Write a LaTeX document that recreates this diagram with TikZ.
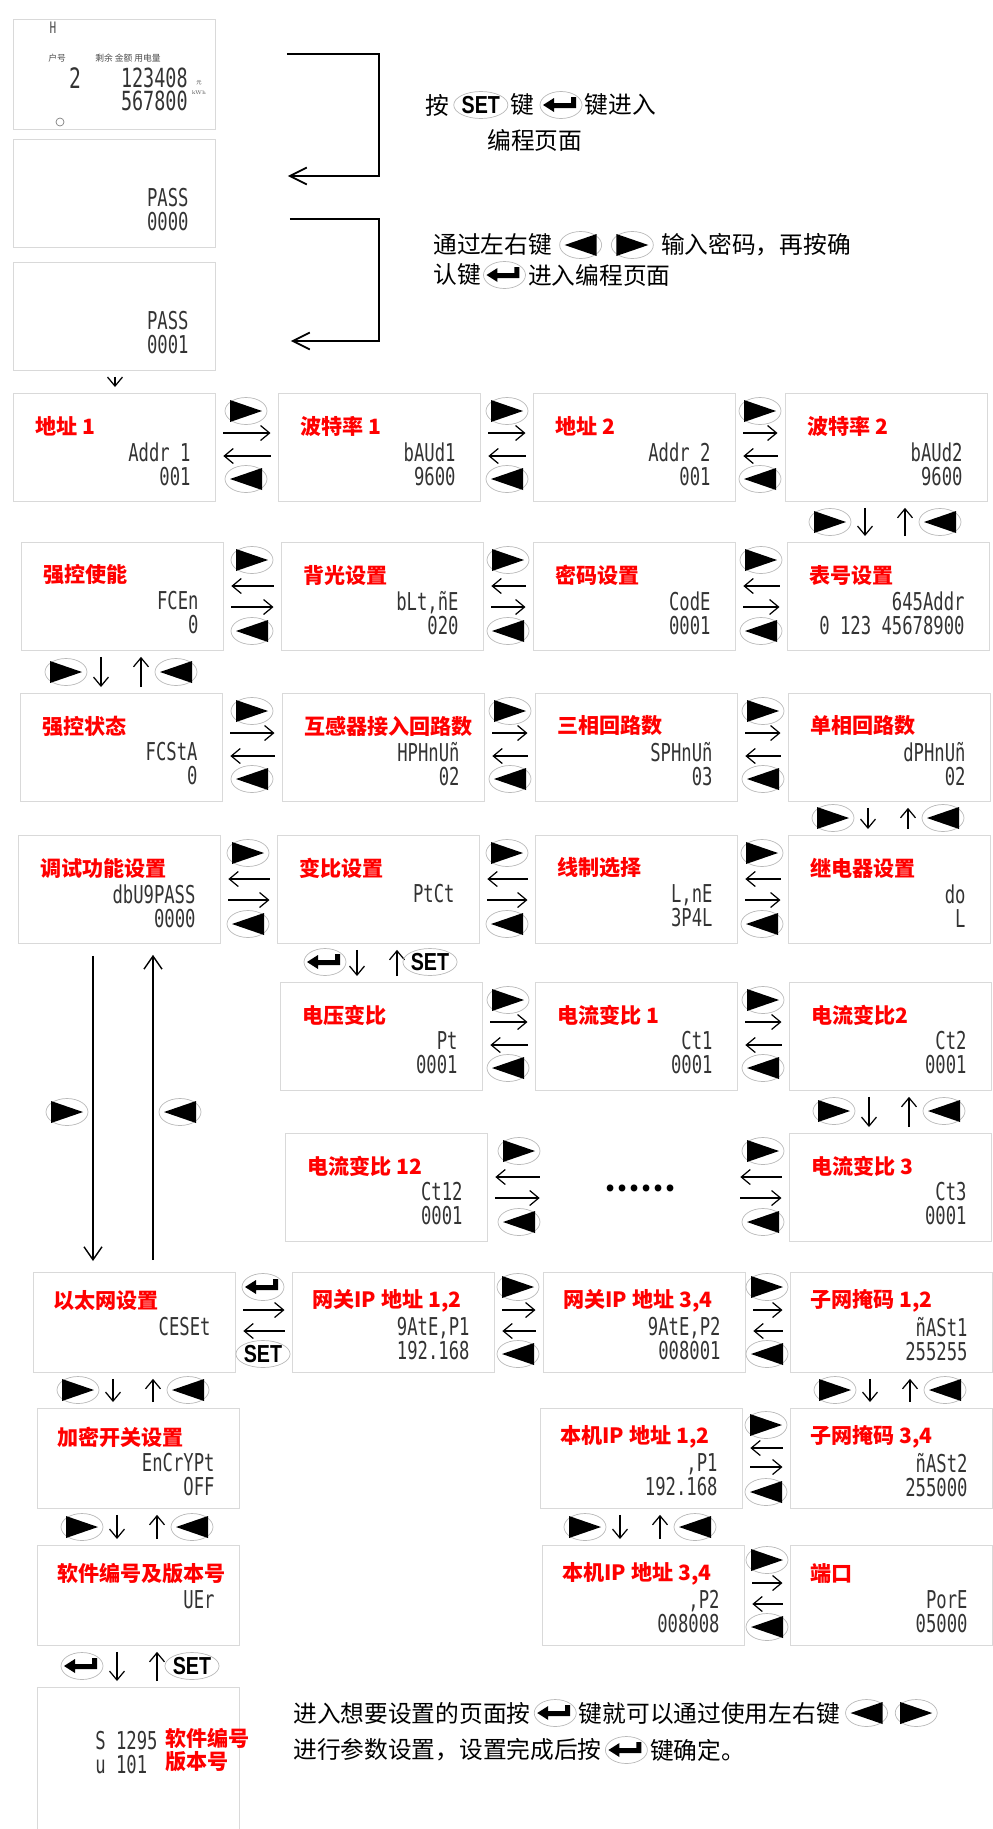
\documentclass[tikz,border=0pt]{standalone}
\usepackage{fontspec}
\usepackage{tikz}
\usetikzlibrary{calc,arrows.meta,positioning,shapes.geometric}
\newfontfamily\cjk{Noto Sans CJK SC}
\newfontfamily\segfont[FakeStretch=0.7]{DejaVu Sans Mono}
\newfontfamily\keyfont[FakeStretch=0.8]{Liberation Sans}

\begin{document}
\begin{tikzpicture}[
  x=0.02cm, y=-0.02cm,
  lcd/.style={draw=gray!30, line width=0.5pt, anchor=north west, minimum width=4.04cm, minimum height=2.16cm, inner sep=0pt},
  lcdlow/.style={lcd, minimum height=2cm},
  tag/.style={anchor=west, inner sep=0pt, text=red, font=\cjk\bfseries\fontsize{12}{14}\selectfont},
  seg/.style={anchor=north east, align=right, inner sep=0pt, text=black!80, font=\segfont\fontsize{14}{13.7}\selectfont},
  note/.style={anchor=west, inner sep=0pt, font=\cjk\fontsize{13.5}{16}\selectfont},
  key/.style={ellipse, draw=gray!55, line width=0.4pt, minimum width=0.84cm, minimum height=0.54cm, inner sep=0pt},
  glyph/.style={append after command={(\tikzlastnode.center) edge[draw=none, fill=black, to path={#1}] (\tikzlastnode.center)}},
  rkey/.style={key, glyph={(\tikztostart) ++(-16,-11) -- ++(0,22) -- ++(32,-11) -- cycle}},
  lkey/.style={key, glyph={(\tikztostart) ++(16,-11) -- ++(0,22) -- ++(-32,-11) -- cycle}},
  enterkey/.style={key, glyph={(\tikztostart) ++(-18,0) -- ++(11,-7) -- ++(0,5) -- ++(17,0) -- ++(0,-6) -- ++(5,0) -- ++(0,11) -- ++(-22,0) -- ++(0,4) -- cycle}},
  setkey/.style={key, font=\keyfont\bfseries\fontsize{14}{14}\selectfont},
  nav/.style={-{Straight Barb[length=1.8mm,width=3mm]}, line width=0.7pt, shorten <=0.15cm, shorten >=0.15cm},
  vnav/.style={nav, shorten <=0.12cm, shorten >=0.12cm},
  bignav/.style={-{Straight Barb[length=3.4mm,width=3.4mm]}, line width=1pt},
  longnav/.style={-{Straight Barb[length=2.6mm,width=3.6mm]}, line width=0.8pt, shorten <=0.24cm, shorten >=0.22cm}
]
\useasboundingbox (0,0) rectangle (992,1829);

% start pages
\node[lcd, minimum height=2.2cm] (meter) at (13,19) {};
\node[inner sep=0pt, text=black!70, font=\segfont\fontsize{9}{9}\selectfont] (mH) at (53,28) {H};
\node[anchor=west, inner sep=0pt, text=black!70, font=\cjk\fontsize{5}{5}\selectfont] (mNo) at (48,58) {户号};
\node[anchor=west, inner sep=0pt, text=black!70, font=\cjk\fontsize{5}{5}\selectfont] (mSum) at (95,58) {剩余 金额 用电量};
\node[inner sep=0pt, text=black!80, font=\segfont\fontsize{16}{16}\selectfont] (mId) at (75,78) {2};
\node[inner sep=0pt, anchor=east, text=black!80, font=\segfont\fontsize{15}{15}\selectfont] (mVal1) at (188,78) {123408};
\node[inner sep=0pt, anchor=east, text=black!80, font=\segfont\fontsize{15}{15}\selectfont] (mVal2) at (188,101) {567800};
\node[inner sep=0pt, text=black!70, font=\cjk\fontsize{3}{3}\selectfont] (mU1) at (199,83) {元};
\node[inner sep=0pt, text=black!70, font=\fontsize{3}{3}\selectfont] (mU2) at (199,93) {kWh};
\node[circle, draw=gray, inner sep=0pt, minimum size=0.16cm] (mIcon) at (60,122) {};

\node[lcd] (pass0) at (13,139) {};
\node[seg] (pass0s) at ($(pass0.north east)+(-27,49)$) {PASS\\0000};
\node[lcd] (pass1) at (13,262) {};
\node[seg] (pass1s) at ($(pass1.north east)+(-27,49)$) {PASS\\0001};

\node[note] (n1a) at (425,105) {按};
\node[setkey, right=0.08cm of n1a] (n1b) {SET};
\node[note, right=0.04cm of n1b] (n1c) {键};
\node[enterkey, right=0.1cm of n1c] (n1d) {};
\node[note, right=0.04cm of n1d] (n1e) {键进入};
\node[note] (n1f) at (487,140) {编程页面};
\node[note] (n2a) at (433,245) {通过左右键};
\node[lkey, right=0.14cm of n2a] (n2b) {};
\node[rkey, right=0.18cm of n2b] (n2c) {};
\node[note, right=0.14cm of n2c] (n2d) {输入密码，再按确};
\node[note] (n2e) at (433,275) {认键};
\node[enterkey, right=0.04cm of n2e] (n2f) {};
\node[note, right=0.04cm of n2f] (n2g) {进入编程页面};

% row 1
\node[lcd] (addr1) at (13,393) {};
\node[tag] (addr1t) at ($(addr1.north west)+(22,33)$) {地址 1};
\node[seg] (addr1s) at ($(addr1.north east)+(-25,49)$) {Addr 1\\001};
\node[lcd] (baud1) at (278,393) {};
\node[tag] (baud1t) at ($(baud1.north west)+(22,33)$) {波特率 1};
\node[seg] (baud1s) at ($(baud1.north east)+(-25,49)$) {bAUd1\\9600};
\node[lcd] (addr2) at (533,393) {};
\node[tag] (addr2t) at ($(addr2.north west)+(22,33)$) {地址 2};
\node[seg] (addr2s) at ($(addr2.north east)+(-25,49)$) {Addr 2\\001};
\node[lcd] (baud2) at (785,393) {};
\node[tag] (baud2t) at ($(baud2.north west)+(22,33)$) {波特率 2};
\node[seg] (baud2s) at ($(baud2.north east)+(-25,49)$) {bAUd2\\9600};

% row 2
\node[lcd] (fcen) at (21,542) {};
\node[tag] (fcent) at ($(fcen.north west)+(22,33)$) {强控使能};
\node[seg] (fcens) at ($(fcen.north east)+(-25,49)$) {FCEn\\0};
\node[lcd] (blt) at (281,542) {};
\node[tag] (bltt) at ($(blt.north west)+(22,33)$) {背光设置};
\node[seg] (blts) at ($(blt.north east)+(-25,49)$) {bLt,ñE\\020};
\node[lcd] (code) at (533,542) {};
\node[tag] (codet) at ($(code.north west)+(22,33)$) {密码设置};
\node[seg] (codes) at ($(code.north east)+(-25,49)$) {CodE\\0001};
\node[lcd] (meterno) at (787,542) {};
\node[tag] (meternot) at ($(meterno.north west)+(22,33)$) {表号设置};
\node[seg] (meternos) at ($(meterno.north east)+(-25,49)$) {645Addr\\0 123 45678900};

% row 3
\node[lcd] (fcsta) at (20,693) {};
\node[tag] (fcstat) at ($(fcsta.north west)+(22,33)$) {强控状态};
\node[seg] (fcstas) at ($(fcsta.north east)+(-25,49)$) {FCStA\\0};
\node[lcd] (hph) at (282,693) {};
\node[tag] (hpht) at ($(hph.north west)+(22,33)$) {互感器接入回路数};
\node[seg] (hphs) at ($(hph.north east)+(-25,49)$) {HPHnUñ\\02};
\node[lcd] (sph) at (535,693) {};
\node[tag] (spht) at ($(sph.north west)+(22,33)$) {三相回路数};
\node[seg] (sphs) at ($(sph.north east)+(-25,49)$) {SPHnUñ\\03};
\node[lcd] (dph) at (788,693) {};
\node[tag] (dpht) at ($(dph.north west)+(22,33)$) {单相回路数};
\node[seg] (dphs) at ($(dph.north east)+(-25,49)$) {dPHnUñ\\02};

% row 4
\node[lcd] (debug) at (18,835) {};
\node[tag] (debugt) at ($(debug.north west)+(22,33)$) {调试功能设置};
\node[seg] (debugs) at ($(debug.north east)+(-25,49)$) {dbU9PASS\\0000};
\node[lcd] (ptct) at (277,835) {};
\node[tag] (ptctt) at ($(ptct.north west)+(22,33)$) {变比设置};
\node[seg] (ptcts) at ($(ptct.north east)+(-25,49)$) {PtCt};
\node[lcd] (line) at (535,835) {};
\node[tag] (linet) at ($(line.north west)+(22,33)$) {线制选择};
\node[seg] (lines) at ($(line.north east)+(-25,49)$) {L,nE\\3P4L};
\node[lcd] (relay) at (788,835) {};
\node[tag] (relayt) at ($(relay.north west)+(22,33)$) {继电器设置};
\node[seg] (relays) at ($(relay.north east)+(-25,49)$) {do\\L};

% row 5
\node[lcd] (pt) at (280,982) {};
\node[tag] (ptt) at ($(pt.north west)+(22,33)$) {电压变比};
\node[seg] (pts) at ($(pt.north east)+(-25,49)$) {Pt\\0001};
\node[lcd] (ct1) at (535,982) {};
\node[tag] (ct1t) at ($(ct1.north west)+(22,33)$) {电流变比 1};
\node[seg] (ct1s) at ($(ct1.north east)+(-25,49)$) {Ct1\\0001};
\node[lcd] (ct2) at (789,982) {};
\node[tag] (ct2t) at ($(ct2.north west)+(22,33)$) {电流变比2};
\node[seg] (ct2s) at ($(ct2.north east)+(-25,49)$) {Ct2\\0001};

% row 6
\node[lcd] (ct12) at (285,1133) {};
\node[tag] (ct12t) at ($(ct12.north west)+(22,33)$) {电流变比 12};
\node[seg] (ct12s) at ($(ct12.north east)+(-25,49)$) {Ct12\\0001};
\node[inner sep=0pt, minimum width=3.7cm, font=\cjk\bfseries\fontsize{18}{18}\selectfont] (dots) at (640,1188) {……};
\node[lcd] (ct3) at (789,1133) {};
\node[tag] (ct3t) at ($(ct3.north west)+(22,33)$) {电流变比 3};
\node[seg] (ct3s) at ($(ct3.north east)+(-25,49)$) {Ct3\\0001};

% row 7
\node[lcdlow] (eth) at (33,1272) {};
\node[tag] (etht) at ($(eth.north west)+(20,29)$) {以太网设置};
\node[seg] (eths) at ($(eth.north east)+(-25,45)$) {CESEt};
\node[lcdlow] (gate12) at (292,1272) {};
\node[tag] (gate12t) at ($(gate12.north west)+(20,29)$) {网关IP 地址 1,2};
\node[seg] (gate12s) at ($(gate12.north east)+(-25,45)$) {9AtE,P1\\192.168};
\node[lcdlow] (gate34) at (543,1272) {};
\node[tag] (gate34t) at ($(gate34.north west)+(20,29)$) {网关IP 地址 3,4};
\node[seg] (gate34s) at ($(gate34.north east)+(-25,45)$) {9AtE,P2\\008001};
\node[lcdlow] (mask12) at (790,1272) {};
\node[tag] (mask12t) at ($(mask12.north west)+(20,29)$) {子网掩码 1,2};
\node[seg] (mask12s) at ($(mask12.north east)+(-25,45)$) {ñASt1\\255255};

% row 8
\node[lcdlow] (encrypt) at (37,1408) {};
\node[tag] (encryptt) at ($(encrypt.north west)+(20,29)$) {加密开关设置};
\node[seg] (encrypts) at ($(encrypt.north east)+(-25,45)$) {EnCrYPt\\OFF};
\node[lcdlow] (ip12) at (540,1408) {};
\node[tag] (ip12t) at ($(ip12.north west)+(20,29)$) {本机IP 地址 1,2};
\node[seg] (ip12s) at ($(ip12.north east)+(-25,45)$) {,P1\\192.168};
\node[lcdlow] (mask34) at (790,1408) {};
\node[tag] (mask34t) at ($(mask34.north west)+(20,29)$) {子网掩码 3,4};
\node[seg] (mask34s) at ($(mask34.north east)+(-25,45)$) {ñASt2\\255000};

% row 9
\node[lcdlow] (ver) at (37,1545) {};
\node[tag] (vert) at ($(ver.north west)+(20,29)$) {软件编号及版本号};
\node[seg] (vers) at ($(ver.north east)+(-25,45)$) {UEr};
\node[lcdlow] (ip34) at (542,1545) {};
\node[tag] (ip34t) at ($(ip34.north west)+(20,29)$) {本机IP 地址 3,4};
\node[seg] (ip34s) at ($(ip34.north east)+(-25,45)$) {,P2\\008008};
\node[lcdlow] (port) at (790,1545) {};
\node[tag] (portt) at ($(port.north west)+(20,29)$) {端口};
\node[seg] (ports) at ($(port.north east)+(-25,45)$) {PorE\\05000};

% version page
\node[lcd, minimum height=2.86cm] (verval) at (37,1687) {};
\node[seg, anchor=north west, align=left] (vervals) at (95,1731) {S 1295\\u 101};
\node[tag] (vervalt1) at (165,1738) {软件编号};
\node[tag] (vervalt2) at (165,1762) {版本号};

% bottom note
\node[note] (n3a) at (293,1713) {进入想要设置的页面按};
\node[enterkey, right=0.06cm of n3a] (n3b) {};
\node[note, right=0.04cm of n3b] (n3c) {键就可以通过使用左右键};
\node[lkey, right=0.1cm of n3c] (n3d) {};
\node[rkey, right=0.14cm of n3d] (n3e) {};
\node[note] (n3f) at (293,1750) {进行参数设置，设置完成后按};
\node[enterkey, right=0.06cm of n3f] (n3g) {};
\node[note, right=0.04cm of n3g] (n3h) {键确定。};

% entering the menu
\draw[bignav] ($(meter.north east)+(71,35)$) -- ++(92,0) |- ($(pass0.north east)+(72,37)$);
\draw[bignav] ($(pass0.north east)+(74,80)$) -- ++(89,0) |- ($(pass1.north east)+(75,79)$);
\draw[vnav] ($(pass1.south west)+(102,0)$) -- ($(pass1.south west |- addr1.north)+(102,0)$);

% row 1 links
\node[rkey] (r11) at (246,411) {};
\draw[nav] ($(addr1.north east)+(0,40)$) -- ($(addr1.north east -| baud1.west)+(0,40)$);
\draw[nav] ($(addr1.north east -| baud1.west)+(0,63)$) -- ($(addr1.north east)+(0,63)$);
\node[lkey] (l11) at (246,479) {};
\node[rkey] (r12) at (507,411) {};
\draw[nav] ($(baud1.north east)+(0,40)$) -- ($(baud1.north east -| addr2.west)+(0,40)$);
\draw[nav] ($(baud1.north east -| addr2.west)+(0,63)$) -- ($(baud1.north east)+(0,63)$);
\node[lkey] (l12) at (507,479) {};
\node[rkey] (r13) at (760,411) {};
\draw[nav] ($(addr2.north east)+(0,40)$) -- ($(addr2.north east -| baud2.west)+(0,40)$);
\draw[nav] ($(addr2.north east -| baud2.west)+(0,63)$) -- ($(addr2.north east)+(0,63)$);
\node[lkey] (l13) at (760,479) {};

\node[rkey] (vr1) at (830,522) {};
\draw[vnav] ($(baud2.south west)+(80,0)$) -- ($(baud2.south west |- meterno.north)+(80,0)$);
\draw[vnav] ($(baud2.south west |- meterno.north)+(120,0)$) -- ($(baud2.south west)+(120,0)$);
\node[lkey] (vl1) at (940,522) {};

% row 2 links
\node[rkey] (r21) at (252,560) {};
\draw[nav] ($(fcen.north east -| blt.west)+(0,44)$) -- ($(fcen.north east)+(0,44)$);
\draw[nav] ($(fcen.north east)+(0,65)$) -- ($(fcen.north east -| blt.west)+(0,65)$);
\node[lkey] (l21) at (252,631) {};
\node[rkey] (r22) at (508,560) {};
\draw[nav] ($(blt.north east -| code.west)+(0,44)$) -- ($(blt.north east)+(0,44)$);
\draw[nav] ($(blt.north east)+(0,65)$) -- ($(blt.north east -| code.west)+(0,65)$);
\node[lkey] (l22) at (508,631) {};
\node[rkey] (r23) at (761,560) {};
\draw[nav] ($(code.north east -| meterno.west)+(0,44)$) -- ($(code.north east)+(0,44)$);
\draw[nav] ($(code.north east)+(0,65)$) -- ($(code.north east -| meterno.west)+(0,65)$);
\node[lkey] (l23) at (761,631) {};

\node[rkey] (vr2) at (66,672) {};
\draw[vnav] ($(fcen.south west)+(80,0)$) -- ($(fcen.south west |- fcsta.north)+(80,0)$);
\draw[vnav] ($(fcen.south west |- fcsta.north)+(120,0)$) -- ($(fcen.south west)+(120,0)$);
\node[lkey] (vl2) at (176,672) {};

% row 3 links
\node[rkey] (r31) at (252,711) {};
\draw[nav] ($(fcsta.north east)+(0,40)$) -- ($(fcsta.north east -| hph.west)+(0,40)$);
\draw[nav] ($(fcsta.north east -| hph.west)+(0,63)$) -- ($(fcsta.north east)+(0,63)$);
\node[lkey] (l31) at (252,779) {};
\node[rkey] (r32) at (510,711) {};
\draw[nav] ($(hph.north east)+(0,40)$) -- ($(hph.north east -| sph.west)+(0,40)$);
\draw[nav] ($(hph.north east -| sph.west)+(0,63)$) -- ($(hph.north east)+(0,63)$);
\node[lkey] (l32) at (510,779) {};
\node[rkey] (r33) at (763,711) {};
\draw[nav] ($(sph.north east)+(0,40)$) -- ($(sph.north east -| dph.west)+(0,40)$);
\draw[nav] ($(sph.north east -| dph.west)+(0,63)$) -- ($(sph.north east)+(0,63)$);
\node[lkey] (l33) at (763,779) {};

\node[rkey] (vr3) at (833,818) {};
\draw[vnav] ($(dph.south west)+(80,0)$) -- ($(dph.south west |- relay.north)+(80,0)$);
\draw[vnav] ($(dph.south west |- relay.north)+(120,0)$) -- ($(dph.south west)+(120,0)$);
\node[lkey] (vl3) at (943,818) {};

% row 4 links
\node[rkey] (r41) at (248,853) {};
\draw[nav] ($(debug.north east -| ptct.west)+(0,44)$) -- ($(debug.north east)+(0,44)$);
\draw[nav] ($(debug.north east)+(0,65)$) -- ($(debug.north east -| ptct.west)+(0,65)$);
\node[lkey] (l41) at (248,924) {};
\node[rkey] (r42) at (507,853) {};
\draw[nav] ($(ptct.north east -| line.west)+(0,44)$) -- ($(ptct.north east)+(0,44)$);
\draw[nav] ($(ptct.north east)+(0,65)$) -- ($(ptct.north east -| line.west)+(0,65)$);
\node[lkey] (l42) at (507,924) {};
\node[rkey] (r43) at (762,853) {};
\draw[nav] ($(line.north east -| relay.west)+(0,44)$) -- ($(line.north east)+(0,44)$);
\draw[nav] ($(line.north east)+(0,65)$) -- ($(line.north east -| relay.west)+(0,65)$);
\node[lkey] (l43) at (762,924) {};

\node[enterkey] (vr4) at (325,962) {};
\draw[vnav] ($(ptct.south west)+(80,0)$) -- ($(ptct.south west |- pt.north)+(80,0)$);
\draw[vnav] ($(ptct.south west |- pt.north)+(120,0)$) -- ($(ptct.south west)+(120,0)$);
\node[setkey] (vl4) at (430,962) {SET};

\node[rkey] (vr5) at (67,1112) {};
\draw[longnav] ($(debug.south west)+(75,0)$) -- ($(debug.south west |- eth.north)+(75,0)$);
\draw[longnav] ($(debug.south west |- eth.north)+(135,0)$) -- ($(debug.south west)+(135,0)$);
\node[lkey] (vl5) at (180,1112) {};

% row 5 links
\node[rkey] (r51) at (508,1000) {};
\draw[nav] ($(pt.north east)+(0,40)$) -- ($(pt.north east -| ct1.west)+(0,40)$);
\draw[nav] ($(pt.north east -| ct1.west)+(0,63)$) -- ($(pt.north east)+(0,63)$);
\node[lkey] (l51) at (508,1068) {};
\node[rkey] (r52) at (763,1000) {};
\draw[nav] ($(ct1.north east)+(0,40)$) -- ($(ct1.north east -| ct2.west)+(0,40)$);
\draw[nav] ($(ct1.north east -| ct2.west)+(0,63)$) -- ($(ct1.north east)+(0,63)$);
\node[lkey] (l52) at (763,1068) {};

\node[rkey] (vr6) at (834,1111) {};
\draw[vnav] ($(ct2.south west)+(80,0)$) -- ($(ct2.south west |- ct3.north)+(80,0)$);
\draw[vnav] ($(ct2.south west |- ct3.north)+(120,0)$) -- ($(ct2.south west)+(120,0)$);
\node[lkey] (vl6) at (944,1111) {};

% row 6 links
\node[rkey] (r61) at (519,1151) {};
\draw[nav] ($(ct12.north east -| dots.west)+(0,44)$) -- ($(ct12.north east)+(0,44)$);
\draw[nav] ($(ct12.north east)+(0,65)$) -- ($(ct12.north east -| dots.west)+(0,65)$);
\node[lkey] (l61) at (519,1222) {};
\node[rkey] (r62) at (763,1151) {};
\draw[nav] ($(ct3.north west)+(0,44)$) -- ($(ct3.north west -| dots.east)+(0,44)$);
\draw[nav] ($(ct3.north west -| dots.east)+(0,65)$) -- ($(ct3.north west)+(0,65)$);
\node[lkey] (l62) at (763,1222) {};

% row 7 links
\node[enterkey] (r71) at (263,1287) {};
\draw[nav] ($(eth.north east)+(0,38)$) -- ($(eth.north east -| gate12.west)+(0,38)$);
\draw[nav] ($(eth.north east -| gate12.west)+(0,59)$) -- ($(eth.north east)+(0,59)$);
\node[setkey] (l71) at (263,1354) {SET};
\node[rkey] (r72) at (518,1287) {};
\draw[nav] ($(gate12.north east)+(0,38)$) -- ($(gate12.north east -| gate34.west)+(0,38)$);
\draw[nav] ($(gate12.north east -| gate34.west)+(0,59)$) -- ($(gate12.north east)+(0,59)$);
\node[lkey] (l72) at (518,1354) {};
\node[rkey] (r73) at (767,1287) {};
\draw[nav] ($(gate34.north east)+(0,38)$) -- ($(gate34.north east -| mask12.west)+(0,38)$);
\draw[nav] ($(gate34.north east -| mask12.west)+(0,59)$) -- ($(gate34.north east)+(0,59)$);
\node[lkey] (l73) at (767,1354) {};

\node[rkey] (vr7) at (78,1390) {};
\draw[vnav] ($(eth.south west)+(80,0)$) -- ($(eth.south west |- encrypt.north)+(80,0)$);
\draw[vnav] ($(eth.south west |- encrypt.north)+(120,0)$) -- ($(eth.south west)+(120,0)$);
\node[lkey] (vl7) at (188,1390) {};
\node[rkey] (vr8) at (835,1390) {};
\draw[vnav] ($(mask12.south west)+(80,0)$) -- ($(mask12.south west |- mask34.north)+(80,0)$);
\draw[vnav] ($(mask12.south west |- mask34.north)+(120,0)$) -- ($(mask12.south west)+(120,0)$);
\node[lkey] (vl8) at (945,1390) {};

% row 8 links
\node[rkey] (r81) at (766,1425) {};
\draw[nav] ($(ip12.north east -| mask34.west)+(0,40)$) -- ($(ip12.north east)+(0,40)$);
\draw[nav] ($(ip12.north east)+(0,59)$) -- ($(ip12.north east -| mask34.west)+(0,59)$);
\node[lkey] (l81) at (766,1492) {};

\node[rkey] (vr9) at (82,1527) {};
\draw[vnav] ($(encrypt.south west)+(80,0)$) -- ($(encrypt.south west |- ver.north)+(80,0)$);
\draw[vnav] ($(encrypt.south west |- ver.north)+(120,0)$) -- ($(encrypt.south west)+(120,0)$);
\node[lkey] (vl9) at (192,1527) {};
\node[rkey] (vr10) at (585,1527) {};
\draw[vnav] ($(ip12.south west)+(80,0)$) -- ($(ip12.south west |- ip34.north)+(80,0)$);
\draw[vnav] ($(ip12.south west |- ip34.north)+(120,0)$) -- ($(ip12.south west)+(120,0)$);
\node[lkey] (vl10) at (695,1527) {};

% row 9 links
\node[rkey] (r91) at (767,1560) {};
\draw[nav] ($(ip34.north east)+(0,38)$) -- ($(ip34.north east -| port.west)+(0,38)$);
\draw[nav] ($(ip34.north east -| port.west)+(0,59)$) -- ($(ip34.north east)+(0,59)$);
\node[lkey] (l91) at (767,1627) {};

\node[enterkey] (vr11) at (82,1666) {};
\draw[vnav] ($(ver.south west)+(80,0)$) -- ($(ver.south west |- verval.north)+(80,0)$);
\draw[vnav] ($(ver.south west |- verval.north)+(120,0)$) -- ($(ver.south west)+(120,0)$);
\node[setkey] (vl11) at (192,1666) {SET};
\end{tikzpicture}
\end{document}
